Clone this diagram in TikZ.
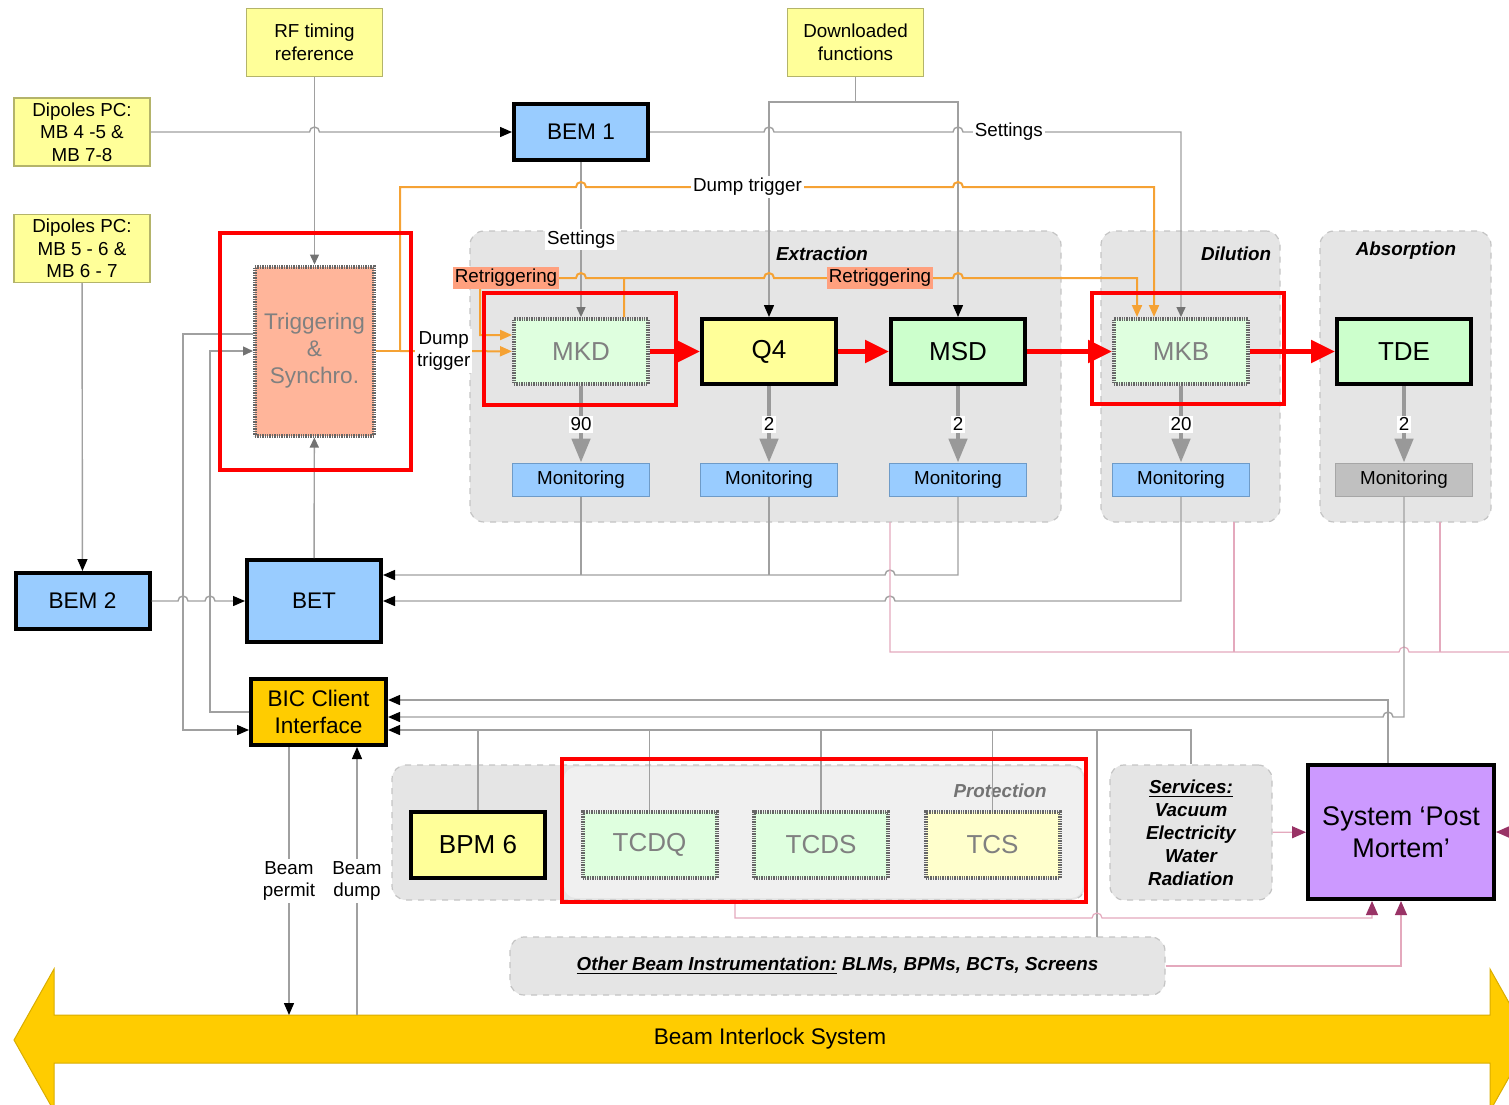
\documentclass[tikz,border=0pt]{standalone}
\usepackage{fontspec}
\setmainfont{Liberation Sans}
\usetikzlibrary{positioning}
\usetikzlibrary{calc}
\usetikzlibrary{arrows.meta}

\definecolor{padyellow}{HTML}{FFFF99}
\definecolor{padedge}{HTML}{B4B46A}
\definecolor{bemblue}{HTML}{99CCFF}
\definecolor{bicgold}{HTML}{FFCC00}
\definecolor{kickgreen}{HTML}{CCFFCC}
\definecolor{ghostgreen}{HTML}{DFFFDF}
\definecolor{ghostyellow}{HTML}{FFFFCC}
\definecolor{trigsalmon}{HTML}{FFB59A}
\definecolor{retrigbg}{HTML}{FFA07E}
\definecolor{dumporange}{HTML}{F5A234}
\definecolor{regiongray}{HTML}{E5E5E5}
\definecolor{regionedge}{HTML}{C4C4C4}
\definecolor{wiregray}{HTML}{A0A0A0}
\definecolor{pmpink}{HTML}{E4A9BD}
\definecolor{pmtip}{HTML}{993366}
\definecolor{pmpurple}{HTML}{CC99FF}
\definecolor{monedge}{HTML}{6E9BC8}
\definecolor{mongray}{HTML}{C0C0C0}

\begin{document}
\begin{tikzpicture}[x=0.5pt, y=-0.5pt,
    fsmall/.style={font=\fontsize{9.4}{11.3}\selectfont},
    fmid/.style={font=\fontsize{11.3}{13.5}\selectfont},
    fbig/.style={font=\fontsize{13}{15.5}\selectfont},
    pad/.style={draw=padedge, line width=0.7pt, fill=padyellow, minimum width=68pt, minimum height=34pt, inner sep=1pt, align=center, fsmall},
    unit/.style={draw=black, line width=2pt, minimum width=67pt, minimum height=32.5pt, inner sep=1pt, align=center, fbig},
    ghost/.style={draw=black!60, line width=2pt, dash pattern=on 0.7pt off 0.5pt, minimum width=67pt, minimum height=32.5pt, inner sep=1pt, align=center, text=black!50, fbig},
    mon/.style={draw=monedge, line width=0.6pt, fill=bemblue, minimum width=68.5pt, minimum height=16.5pt, inner sep=0pt, fsmall},
    region/.style={draw=regionedge, dashed, line width=0.6pt, fill=regiongray, rounded corners=7pt, inner sep=0pt},
    reglabel/.style={font=\fontsize{9.4}{11.3}\selectfont\bfseries\itshape},
    redbox/.style={draw=red, line width=2pt},
    wire/.style={draw=wiregray, line width=0.7pt},
    dump/.style={draw=dumporange, line width=1pt},
    pmwire/.style={draw=pmpink, line width=0.6pt},
    monarrow/.style={draw=black!40, line width=2.3pt, -{Triangle[length=12pt,width=9pt]}},
    beam/.style={draw=red, line width=2.5pt, -{Triangle[length=12pt,width=11pt]}},
    blk/.style={-{Triangle[length=6pt,width=5pt,color=black]}},
    gtip/.style={-{Triangle[length=5pt,width=4.5pt,color=black!55]}},
    otip/.style={-{Triangle[length=6pt,width=5pt]}},
    ptip/.style={-{Triangle[length=7pt,width=6pt,color=pmtip]}},
    wlabel/.style={fill=white, inner sep=1pt, fsmall},
    retrig/.style={fill=retrigbg, inner sep=1pt, fsmall},
    jumpR/.style={insert path={arc[start angle=180, end angle=0, radius=2.5pt]}},
    jumpL/.style={insert path={arc[start angle=0, end angle=180, radius=2.5pt]}}
  ]
  \useasboundingbox (0,0) rectangle (1509,1104);

  % groups
  \node[region, minimum width=295.5pt, minimum height=145.5pt] (extr) at (765.5,376.5) {};
  \node[region, minimum width=89.5pt, minimum height=145.5pt] (dilu) at (1190.5,376.5) {};
  \node[region, minimum width=85.5pt, minimum height=145.5pt] (absp) at (1405.5,376.5) {};
  \node[region, minimum width=346.5pt, minimum height=67.5pt] (prot) at (738.5,832.5) {};
  \fill[white, opacity=0.45, rounded corners=6pt] (564,767) rectangle (1083,898);
  \node[region, minimum width=81pt, minimum height=67.5pt, align=center, font=\fontsize{9.4}{11.5}\selectfont\bfseries\itshape] (serv) at (1191,832.5) {\underline{Services:}\\Vacuum\\Electricity\\Water\\Radiation};
  \node[region, minimum width=327.5pt, minimum height=29pt, font=\fontsize{9.4}{11.3}\selectfont\bfseries\itshape] (obi) at (837.5,966) {\underline{Other Beam Instrumentation:} BLMs, BPMs, BCTs, Screens};

  \node[reglabel] (extrname) at (822,254) {Extraction};
  \node[reglabel] (diluname) at (1236,254) {Dilution};
  \node[reglabel] (abspname) at (1406,251) {Absorption};
  \node[reglabel, text=black!55] (protname) at (1000,791) {Protection};

  % beam interlock system
  \path[fill=bicgold, draw=bicgold!85!black, line width=0.5pt] (14,1040) -- (54,969) -- (54,1015) -- (1490,1015) -- (1490,969) -- (1530,1040) -- (1490,1111) -- (1490,1063) -- (54,1063) -- (54,1111) -- cycle;
  \node[fmid] (bis) at (770,1039) {Beam Interlock System};

  % sources
  \node[pad] (rf) at (314.5,42.5) {RF timing\\reference};
  \node[pad] (dl) at (855.5,42.5) {Downloaded\\functions};
  \node[pad] (dip1) at (82,132) {Dipoles PC:\\MB 4 -5 \&\\MB 7-8};
  \node[pad] (dip2) at (82,248.5) {Dipoles PC:\\MB 5 - 6 \&\\MB 6 - 7};

  % electronics
  \node[unit, fmid, fill=bemblue, minimum height=28pt] (bem1) at (581,132) {BEM 1};
  \node[unit, fmid, fill=bemblue, minimum height=28pt] (bem2) at (82.5,601) {BEM 2};
  \node[unit, fmid, fill=bemblue, minimum height=41pt] (bet) at (314,601) {BET};
  \node[unit, fmid, fill=bicgold, minimum height=33pt, minimum width=67.5pt] (bic) at (318.5,712) {BIC Client\\Interface};
  \node[ghost, fmid, fill=trigsalmon, minimum width=59.5pt, minimum height=84.5pt] (trig) at (314.5,351) {Triggering\\\&\\Synchro.};

  % beam line
  \node[ghost, fill=ghostgreen] (mkd) at (581,351.5) {MKD};
  \node[unit, fill=padyellow, right=25pt of mkd] (q4) {Q4};
  \node[unit, fill=kickgreen, right=25.5pt of q4] (msd) {MSD};
  \node[ghost, fill=ghostgreen, right=42.5pt of msd] (mkb) {MKB};
  \node[unit, fill=kickgreen, right=42.5pt of mkb] (tde) {TDE};

  \node[mon, below=38.3pt of mkd] (mkdmon) {Monitoring};
  \node[mon, below=38.3pt of q4] (q4mon) {Monitoring};
  \node[mon, below=38.3pt of msd] (msdmon) {Monitoring};
  \node[mon, below=38.3pt of mkb] (mkbmon) {Monitoring};
  \node[mon, fill=mongray, draw=black!35, below=38.3pt of tde] (tdemon) {Monitoring};

  % protection
  \node[unit, fill=padyellow, minimum height=33pt] (bpm) at (478,845) {BPM 6};
  \node[ghost, fill=ghostgreen, minimum height=33pt] (tcdq) at (649.5,845) {TCDQ};
  \node[ghost, fill=ghostgreen, minimum height=33pt, right=16.75pt of tcdq] (tcds) {TCDS};
  \node[ghost, fill=ghostyellow, minimum height=33pt, right=16.75pt of tcds] (tcs) {TCS};

  \node[unit, fill=pmpurple, minimum width=93pt, minimum height=67pt, font=\fontsize{13.5}{16}\selectfont] (pm) at (1401,832) {System ‘Post\\Mortem’};

  % settings and functions
  \draw[wire, blk] (dip1) -- ($(rf |- dip1)+(-2.5pt,0)$) [jumpR] -- (bem1);
  \draw[wire, gtip] (rf) -- (trig);
  \draw[wire, gtip] (bem1) -- node[wlabel] (setlbl) {Settings} (mkd);
  \coordinate (dlbar) at (dl |- bem1.north);
  \draw[wire] (dl) -- (dlbar);
  \draw[wire, blk] (dlbar) -| (q4);
  \draw[wire, blk] (dlbar) -| (msd);
  \draw[wire, gtip] (bem1) -- ($(q4 |- bem1)+(-2.5pt,0)$) [jumpR] -- ($(msd |- bem1)+(-2.5pt,0)$) [jumpR] -- node[wlabel, pos=0.21] (setlbl2) {Settings} (mkb |- bem1) -- (mkb);

  % dump trigger
  \coordinate (dtsplit) at (400,351);
  \coordinate (dtcorner) at (400,187);
  \coordinate (mkbdt) at ($(mkb.north)+(-13.5pt,0)$);
  \coordinate (mkbrt) at ($(mkb.north)+(-22pt,0)$);
  \draw[dump] (trig) -- (dtsplit);
  \draw[dump, otip] (dtsplit) -- node[wlabel, pos=0.39, align=center] (dtlbl) {Dump\\trigger} (mkd);
  \draw[dump, otip] (dtsplit) -- (dtcorner) -- ($(bem1 |- dtcorner)+(-2.5pt,0)$) [jumpR] -- node[wlabel, pos=0.44] (dtlbl2) {Dump trigger} ($(msd |- dtcorner)+(-2.5pt,0)$) [jumpR] -- (mkbdt |- dtcorner) -- (mkbdt);

  % retriggering
  \coordinate (rtrow) at (624,278);
  \coordinate (rtleft) at (480,335);
  \draw[dump, otip] (rtrow |- mkd.north) -- (rtrow) -- ($(q4 |- rtrow)+(-2.5pt,0)$) [jumpR] -- ($(msd |- rtrow)+(-2.5pt,0)$) [jumpR] -- (mkbrt |- rtrow) -- (mkbrt);
  \draw[dump, otip] (rtrow) -- ($(bem1 |- rtrow)+(2.5pt,0)$) [jumpL] -- (rtleft |- rtrow) -- (rtleft) -- (mkd.west |- rtleft);
  \node[retrig] (rtlbl1) at (506,278) {Retriggering};
  \node[retrig] (rtlbl2) at (880,278) {Retriggering};

  % beam and monitoring
  \draw[beam] (mkd) -- (q4);
  \draw[beam] (q4) -- (msd);
  \draw[beam] (msd) -- (mkb);
  \draw[beam] (mkb) -- (tde);
  \draw[monarrow] (mkd) -- node[wlabel] (n90) {90} (mkdmon);
  \draw[monarrow] (q4) -- node[wlabel] (nq4) {2} (q4mon);
  \draw[monarrow] (msd) -- node[wlabel] (nmsd) {2} (msdmon);
  \draw[monarrow] (mkb) -- node[wlabel] (n20) {20} (mkbmon);
  \draw[monarrow] (tde) -- node[wlabel] (ntde) {2} (tdemon);

  % monitoring to BET
  \coordinate (betinA) at ($(bet.east)+(0,13pt)$);
  \coordinate (pmA) at (890,522);
  \draw[wire, blk] (msdmon) -- (msdmon |- betinA) -- ($(pmA |- betinA)+(2.5pt,0)$) [jumpL] -- (betinA);
  \draw[wire] (mkdmon) -- (mkdmon |- betinA);
  \draw[wire] (q4mon) -- (q4mon |- betinA);
  \draw[wire, blk] (mkbmon) -- (mkbmon |- bet.east) -- ($(pmA |- bet.east)+(2.5pt,0)$) [jumpL] -- (bet.east);

  % post mortem lines
  \coordinate (pmrow) at (890,652);
  \coordinate (pmB) at (1234,522);
  \coordinate (pmC) at (1440,522);
  \coordinate (pmend) at (1509,652);
  \draw[pmwire] (pmA) -- (pmrow) -- ($(tdemon |- pmrow)+(-2.5pt,0)$) [jumpR] -- (pmend);
  \draw[pmwire] (pmB) -- (pmB |- pmrow);
  \draw[pmwire] (pmC) -- (pmC |- pmrow);

  % inputs of the BIC client
  \coordinate (bicinA) at ($(bic.east)+(0,6pt)$);
  \coordinate (bicinB) at ($(bic.east)+(0,-2.5pt)$);
  \coordinate (bicinC) at ($(bic.east)+(0,-9pt)$);
  \coordinate (pmtop) at ($(pm.north)+(-6.5pt,0)$);
  \draw[wire, blk] (pmtop) |- (bicinA);
  \draw[wire, blk] (tdemon) -- (tdemon |- bicinB) -- ($(pmtop |- bicinB)+(2.5pt,0)$) [jumpL] -- (bicinB);
  \draw[wire, blk] (serv) |- (bicinC);
  \foreach \src in {bpm, tcdq, tcds, tcs}
    \draw[wire] (\src) -- (\src |- bicinC);
  \coordinate (obitop) at (1097,937);
  \draw[wire] (obitop) -- (obitop |- bicinC);

  % inputs of the post mortem
  \coordinate (pmside) at (1509,832);
  \coordinate (protout) at (735,900);
  \coordinate (pmrowB) at (735,918);
  \coordinate (pmbotA) at ($(pm.south)+(-14.5pt,0)$);
  \draw[pmwire, ptip] (serv) -- (pm);
  \draw[pmwire, ptip] (pmside) -- (pm.east);
  \draw[pmwire, ptip] (protout) -- (pmrowB) -- ($(obitop |- pmrowB)+(-2.5pt,0)$) [jumpR] -- (pmbotA |- pmrowB) -- (pmbotA);
  \draw[pmwire, ptip] (obi) -| (pm);

  % left side
  \coordinate (lineA) at (183,334);
  \coordinate (lineB) at (210,351);
  \draw[wire, blk] (dip2) -- (bem2);
  \draw[wire, blk] (bem2) -- ($(lineA |- bem2)+(-2.5pt,0)$) [jumpR] -- ($(lineB |- bem2)+(-2.5pt,0)$) [jumpR] -- (bet);
  \draw[wire, blk] (trig.west |- lineA) -- (lineA) |- ($(bic.west)+(0,-9pt)$);
  \draw[wire, gtip] (bic.west) -- (lineB |- bic.west) -- (lineB) -- (trig.west |- lineB);
  \draw[wire, gtip] (bet) -- (trig);

  % to the interlock system
  \coordinate (bistop) at (770,1015);
  \coordinate (permitx) at ($(bic.south)+(-14.75pt,0)$);
  \coordinate (dumpx) at ($(bic.south)+(19.25pt,0)$);
  \draw[wire, blk] (permitx) -- node[wlabel, align=center] (permitlbl) {Beam\\permit} (permitx |- bistop);
  \draw[wire, blk] (dumpx |- bistop) -- node[wlabel, align=center] (dumplbl) {Beam\\dump} (dumpx);

  % highlighted items
  \draw[redbox] (220,233) rectangle (411,470);
  \draw[redbox] (484,293) rectangle (676,405);
  \draw[redbox] (1092,293) rectangle (1284,404);
  \draw[redbox] (562,759) rectangle (1086,902);
\end{tikzpicture}
\end{document}
